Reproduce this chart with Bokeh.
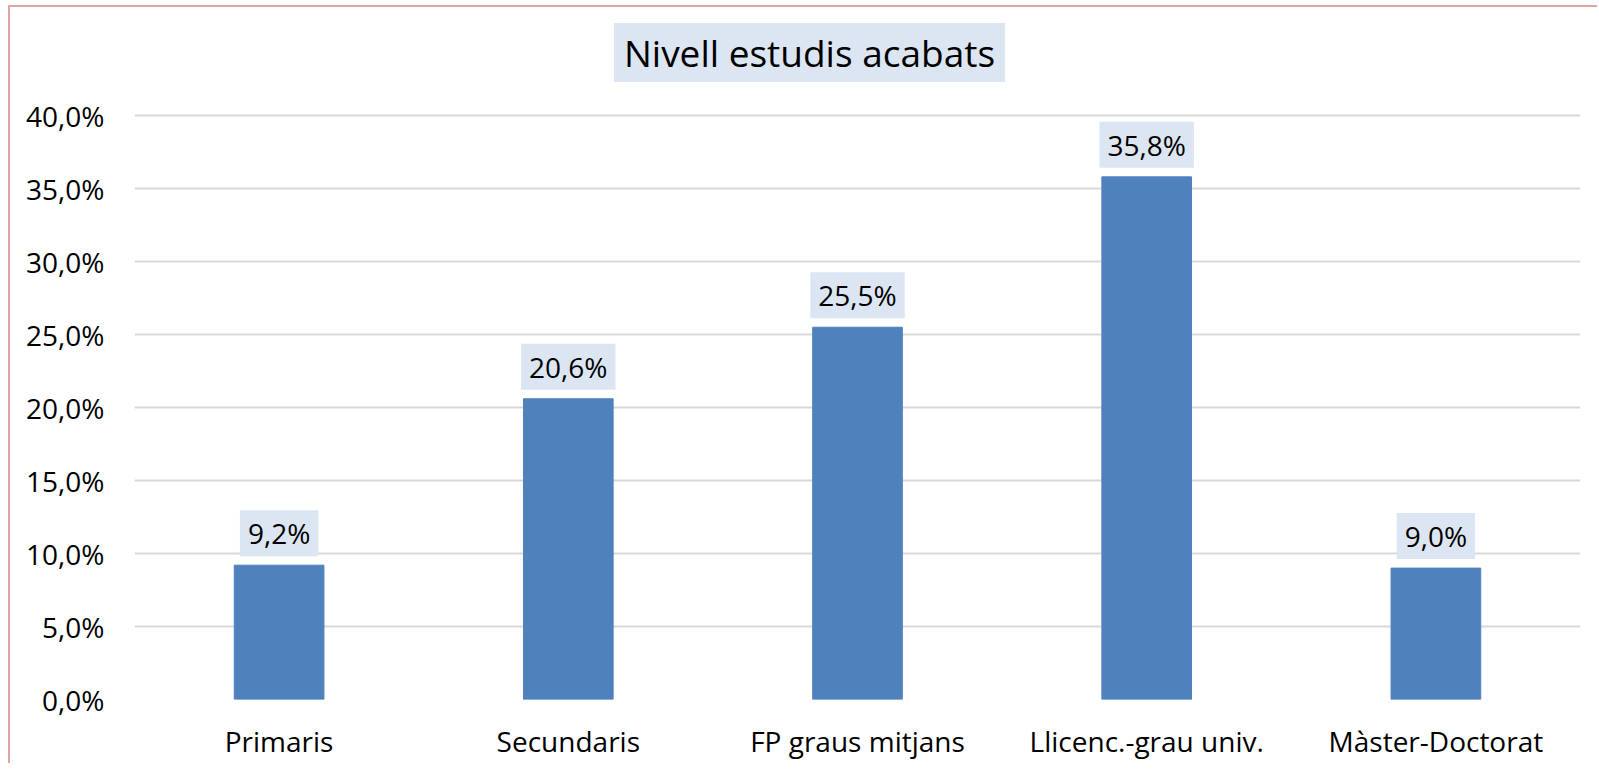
from bokeh.plotting import figure
from bokeh.models import ColumnDataSource, FactorRange, Range1d, FixedTicker, Label
from bokeh.embed import file_html
from bokeh.resources import INLINE

categories = ["Primaris", "Secundaris", "FP graus mitjans", "Llicenc.-grau univ.", "Màster-Doctorat"]
values = [9.2, 20.6, 25.5, 35.8, 9.0]
tick_values = [0, 5, 10, 15, 20, 25, 30, 35, 40]
tick_labels = ["0,0%", "5,0%", "10,0%", "15,0%", "20,0%", "25,0%", "30,0%", "35,0%", "40,0%"]
title_text = "Nivell estudis acabats"

FONT = "Open Sans"
BAR = "#4f81bd"
BOXFILL = "#dce6f2"
GRID = "#d9d9d9"

labels = [f"{v:.1f}%".replace(".", ",") for v in values]
src = ColumnDataSource(data=dict(cat=categories, val=values))

# the plot frame extends up to the top of the canvas so the title box can sit inside it;
# gridlines and tick labels are only drawn at the fixed ticks 0..40
p = figure(
    width=1589, height=758,
    x_range=FactorRange(*categories, range_padding=0),
    y_range=Range1d(0, 47.4),
    output_backend="svg", toolbar_location=None,
    min_border_left=124, min_border_right=19,
    min_border_top=0, min_border_bottom=66,
)
p.styles = {"margin-top": "5px", "margin-left": "8px",
            "border-left": "2px solid #e3a3a3", "border-top": "2px solid #e3a3a3"}

p.vbar(x="cat", top="val", width=0.31, source=src, fill_color=BAR, line_color=BAR)

# chart title: boxed text, placed in screen units (from the frame's bottom-left)
p.add_layout(Label(x=675, y=647, x_units="screen", y_units="screen", text=title_text,
                   text_align="center", text_baseline="middle",
                   text_font=FONT, text_font_size="37px", text_color="black",
                   background_fill_color=BOXFILL, padding=(10, 4)))

# factor i of a FactorRange with no padding sits at synthetic coordinate i + 0.5
for i, (v, lab) in enumerate(zip(values, labels)):
    p.add_layout(Label(x=i + 0.5, y=v, text=lab, text_align="center", text_baseline="middle",
                       y_offset=32, text_font=FONT, text_font_size="28px", text_color="black",
                       background_fill_color=BOXFILL, padding=(8, 4)))

p.yaxis.ticker = FixedTicker(ticks=tick_values)
p.yaxis.major_label_overrides = {tv: tl for tv, tl in zip(tick_values, tick_labels)}
p.yaxis.axis_line_color = None
p.yaxis.major_tick_line_color = None
p.yaxis.minor_tick_line_color = None
p.yaxis.major_label_standoff = 24
p.yaxis.major_label_text_font = FONT
p.yaxis.major_label_text_font_size = "28px"
p.yaxis.major_label_text_color = "black"

p.xaxis.axis_line_color = None
p.xaxis.major_tick_line_color = None
p.xaxis.major_label_standoff = 16
p.xaxis.major_label_text_font = FONT
p.xaxis.major_label_text_font_size = "28px"
p.xaxis.major_label_text_color = "black"

p.xgrid.grid_line_color = None
p.ygrid.grid_line_color = GRID
p.ygrid.grid_line_width = 2
p.outline_line_color = None

open("out.html", "w").write(file_html(p, INLINE))
